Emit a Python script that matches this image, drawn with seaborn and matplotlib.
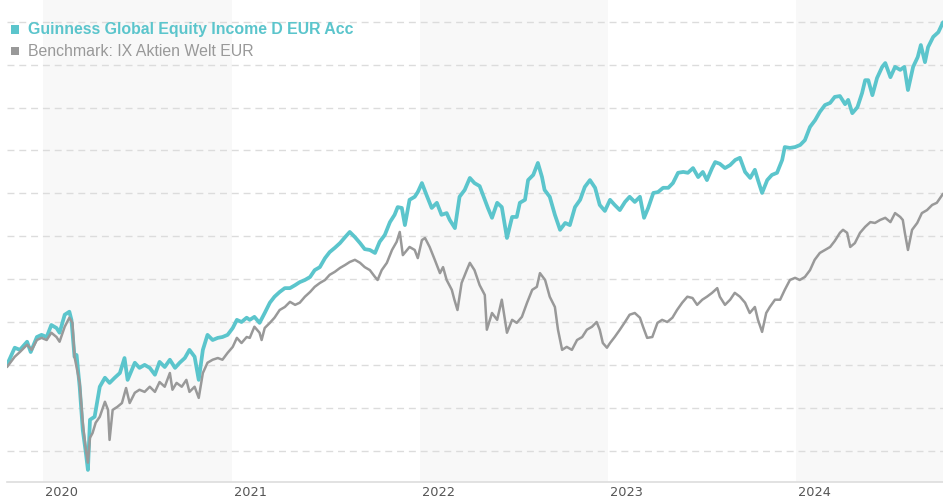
import matplotlib
matplotlib.use("Agg")
import matplotlib.pyplot as plt
from matplotlib.patches import Rectangle
from matplotlib.transforms import ScaledTranslation
import seaborn as sns
import pandas as pd

# ---------------- data (cumulative performance, %) ----------------
fund_name = "Guinness Global Equity Income D EUR Acc"
bench_name = "Benchmark: IX Aktien Welt EUR"
year_labels = ["2020", "2021", "2022", "2023", "2024"]

fund_dates = [
    "2019-10-23", "2019-11-07", "2019-11-17", "2019-12-01", "2019-12-08", "2019-12-20", "2019-12-29",
    "2020-01-08", "2020-01-17", "2020-01-27", "2020-02-02", "2020-02-12", "2020-02-21", "2020-02-25",
    "2020-03-02", "2020-03-06", "2020-03-12", "2020-03-18", "2020-03-24", "2020-03-28", "2020-04-01",
    "2020-04-10", "2020-04-20", "2020-04-30", "2020-05-09", "2020-05-19", "2020-05-29", "2020-06-07",
    "2020-06-13", "2020-06-27", "2020-07-06", "2020-07-16", "2020-07-26", "2020-08-05", "2020-08-14",
    "2020-08-24", "2020-09-03", "2020-09-13", "2020-09-22", "2020-10-02", "2020-10-11", "2020-10-21",
    "2020-10-29", "2020-11-06", "2020-11-15", "2020-11-25", "2020-12-05", "2020-12-14", "2020-12-24",
    "2021-01-03", "2021-01-11", "2021-01-20", "2021-01-30", "2021-02-05", "2021-02-14", "2021-02-24",
    "2021-03-06", "2021-03-16", "2021-03-25", "2021-04-04", "2021-04-14", "2021-04-24", "2021-05-04",
    "2021-05-13", "2021-05-23", "2021-06-02", "2021-06-11", "2021-06-21", "2021-07-01", "2021-07-10",
    "2021-07-20", "2021-07-30", "2021-08-09", "2021-08-18", "2021-08-28", "2021-09-07", "2021-09-16",
    "2021-09-26", "2021-10-06", "2021-10-15", "2021-10-25", "2021-11-04", "2021-11-13", "2021-11-19",
    "2021-11-27", "2021-12-03", "2021-12-12", "2021-12-22", "2021-12-28", "2022-01-05", "2022-01-14",
    "2022-01-24", "2022-02-03", "2022-02-12", "2022-02-22", "2022-02-28", "2022-03-10", "2022-03-19",
    "2022-03-29", "2022-04-08", "2022-04-17", "2022-04-27", "2022-05-07", "2022-05-13", "2022-05-21",
    "2022-05-31", "2022-06-09", "2022-06-19", "2022-06-29", "2022-07-08", "2022-07-14", "2022-07-24",
    "2022-07-30", "2022-08-09", "2022-08-18", "2022-08-26", "2022-08-31", "2022-09-10", "2022-09-20",
    "2022-09-30", "2022-10-10", "2022-10-19", "2022-10-29", "2022-11-08", "2022-11-17", "2022-11-27",
    "2022-12-07", "2022-12-16", "2022-12-26", "2023-01-05", "2023-01-14", "2023-01-24", "2023-02-03",
    "2023-02-12", "2023-02-22", "2023-03-04", "2023-03-12", "2023-03-20", "2023-03-30", "2023-04-08",
    "2023-04-18", "2023-04-28", "2023-05-07", "2023-05-17", "2023-05-27", "2023-06-05", "2023-06-15",
    "2023-06-25", "2023-07-04", "2023-07-12", "2023-07-22", "2023-07-28", "2023-08-06", "2023-08-16",
    "2023-08-26", "2023-09-05", "2023-09-14", "2023-09-24", "2023-10-04", "2023-10-13", "2023-10-19",
    "2023-10-27", "2023-11-06", "2023-11-15", "2023-11-25", "2023-12-05", "2023-12-10", "2023-12-20",
    "2023-12-30", "2024-01-09", "2024-01-18", "2024-01-28", "2024-02-07", "2024-02-16", "2024-02-26",
    "2024-03-07", "2024-03-16", "2024-03-26", "2024-04-05", "2024-04-11", "2024-04-19", "2024-04-29",
    "2024-05-08", "2024-05-14", "2024-05-20", "2024-05-28", "2024-06-06", "2024-06-16", "2024-06-22",
    "2024-07-02", "2024-07-11", "2024-07-21", "2024-07-29", "2024-08-05", "2024-08-15", "2024-08-24",
    "2024-08-30", "2024-09-07", "2024-09-13", "2024-09-23", "2024-10-03", "2024-10-12",
]
fund_values = [
    0.0, 4.0, 3.5, 5.4, 3.0, 6.5, 7.0,
    6.5, 9.3, 8.6, 7.5, 11.7, 12.4, 10.5,
    1.9, 2.3, -5.1, -15.2, -20.5, -24.5, -12.8,
    -12.1, -5.1, -3.0, -4.2, -3.0, -1.9, 1.6,
    -3.5, 0.5, -0.7, 0.0, -0.7, -2.3, 0.7,
    -0.5, 1.2, -0.7, 0.5, 1.6, 3.5, 1.9,
    -3.5, 3.5, 7.0, 5.8, 6.3, 6.5, 7.0,
    8.6, 10.5, 10.0, 11.0, 10.5, 11.2, 9.8,
    12.1, 14.5, 15.9, 17.0, 17.9, 17.9, 18.6,
    19.3, 19.8, 20.5, 22.1, 22.8, 24.9, 26.3,
    27.3, 28.4, 29.8, 31.0, 29.8, 28.4, 27.0,
    26.8, 26.1, 28.7, 30.3, 33.3, 35.0, 36.8,
    36.6, 32.6, 38.5, 39.2, 40.3, 42.4, 39.6,
    36.6, 37.8, 35.0, 35.4, 33.8, 31.9, 39.2,
    40.8, 43.6, 42.4, 41.7, 38.5, 36.6, 34.3,
    37.8, 36.8, 29.6, 34.5, 34.5, 37.8, 38.5,
    43.1, 44.3, 47.1, 43.8, 40.8, 39.2, 35.0,
    31.5, 33.1, 32.6, 36.8, 38.5, 41.5, 43.1,
    41.3, 37.3, 35.9, 38.5, 37.3, 36.1, 38.0,
    39.2, 38.0, 39.2, 34.3, 36.6, 40.1, 40.3,
    41.3, 41.3, 42.4, 44.8, 45.0, 44.8, 45.9,
    43.8, 45.0, 43.1, 45.9, 47.3, 46.9, 45.9,
    46.6, 47.8, 48.3, 45.0, 43.6, 45.5, 43.1,
    40.1, 43.1, 44.3, 44.8, 47.8, 50.8, 50.6,
    50.8, 51.3, 52.4, 55.5, 57.1, 59.0, 60.6,
    61.1, 62.5, 62.7, 60.8, 61.8, 58.7, 60.1,
    63.4, 66.4, 66.4, 62.9, 66.9, 69.5, 70.4,
    67.1, 69.5, 68.8, 69.5, 64.1, 69.5, 71.8,
    74.6, 70.6, 74.1, 76.5, 77.6, 79.9,
]

bench_dates = [
    "2019-10-23", "2019-11-07", "2019-11-17", "2019-12-01", "2019-12-10", "2019-12-20", "2019-12-29",
    "2020-01-08", "2020-01-17", "2020-01-27", "2020-02-02", "2020-02-12", "2020-02-21", "2020-02-27",
    "2020-03-02", "2020-03-12", "2020-03-18", "2020-03-24", "2020-03-28", "2020-04-01", "2020-04-06",
    "2020-04-12", "2020-04-20", "2020-04-30", "2020-05-06", "2020-05-09", "2020-05-15", "2020-05-24",
    "2020-06-02", "2020-06-10", "2020-06-17", "2020-06-27", "2020-07-06", "2020-07-16", "2020-07-26",
    "2020-08-05", "2020-08-14", "2020-08-24", "2020-09-03", "2020-09-08", "2020-09-16", "2020-09-26",
    "2020-10-05", "2020-10-11", "2020-10-21", "2020-10-29", "2020-11-06", "2020-11-15", "2020-11-25",
    "2020-12-05", "2020-12-14", "2020-12-24", "2021-01-03", "2021-01-11", "2021-01-20", "2021-01-30",
    "2021-02-05", "2021-02-14", "2021-02-24", "2021-02-28", "2021-03-06", "2021-03-16", "2021-03-25",
    "2021-04-04", "2021-04-14", "2021-04-24", "2021-05-04", "2021-05-13", "2021-05-23", "2021-06-02",
    "2021-06-11", "2021-06-21", "2021-07-01", "2021-07-10", "2021-07-20", "2021-07-30", "2021-08-09",
    "2021-08-18", "2021-08-28", "2021-09-07", "2021-09-16", "2021-09-26", "2021-10-06", "2021-10-11",
    "2021-10-19", "2021-10-29", "2021-11-08", "2021-11-17", "2021-11-23", "2021-11-29", "2021-12-12",
    "2021-12-22", "2021-12-28", "2022-01-05", "2022-01-11", "2022-01-20", "2022-01-30", "2022-02-09",
    "2022-02-15", "2022-02-22", "2022-03-04", "2022-03-09", "2022-03-15", "2022-03-23", "2022-04-02",
    "2022-04-08", "2022-04-17", "2022-04-27", "2022-05-07", "2022-05-11", "2022-05-21", "2022-05-31",
    "2022-06-09", "2022-06-19", "2022-06-29", "2022-07-08", "2022-07-18", "2022-07-28", "2022-08-07",
    "2022-08-16", "2022-08-22", "2022-09-01", "2022-09-10", "2022-09-20", "2022-09-26", "2022-10-04",
    "2022-10-13", "2022-10-23", "2022-11-02", "2022-11-12", "2022-11-21", "2022-12-01", "2022-12-10",
    "2022-12-16", "2022-12-22", "2022-12-30", "2023-01-05", "2023-01-14", "2023-01-24", "2023-02-03",
    "2023-02-12", "2023-02-22", "2023-03-04", "2023-03-10", "2023-03-18", "2023-03-28", "2023-04-07",
    "2023-04-16", "2023-04-26", "2023-05-06", "2023-05-15", "2023-05-25", "2023-06-04", "2023-06-14",
    "2023-06-23", "2023-07-03", "2023-07-12", "2023-07-22", "2023-08-01", "2023-08-06", "2023-08-16",
    "2023-08-26", "2023-09-04", "2023-09-14", "2023-09-24", "2023-10-03", "2023-10-13", "2023-10-19",
    "2023-10-27", "2023-11-04", "2023-11-11", "2023-11-21", "2023-12-01", "2023-12-10", "2023-12-20",
    "2023-12-30", "2024-01-08", "2024-01-18", "2024-01-28", "2024-02-06", "2024-02-16", "2024-02-26",
    "2024-03-07", "2024-03-16", "2024-03-26", "2024-04-01", "2024-04-09", "2024-04-15", "2024-04-24",
    "2024-05-04", "2024-05-14", "2024-05-24", "2024-06-02", "2024-06-12", "2024-06-22", "2024-07-02",
    "2024-07-11", "2024-07-21", "2024-07-26", "2024-07-30", "2024-08-05", "2024-08-13", "2024-08-23",
    "2024-09-01", "2024-09-11", "2024-09-21", "2024-09-30", "2024-10-08", "2024-10-12",
]
bench_values = [
    -0.5, 1.9, 3.0, 4.7, 3.5, 5.8, 6.3,
    5.8, 7.5, 6.5, 5.4, 8.9, 11.0, 9.8,
    1.9, -4.2, -13.5, -19.8, -22.8, -17.0, -15.9,
    -13.5, -12.1, -8.6, -10.5, -17.5, -10.5, -9.8,
    -8.9, -5.4, -8.9, -6.5, -5.8, -6.3, -5.1,
    -6.3, -4.0, -5.1, -1.9, -5.8, -4.2, -5.1,
    -3.5, -6.3, -5.1, -7.7, -1.9, 0.5, 1.2,
    1.6, 1.2, 2.8, 4.2, 6.3, 5.1, 6.5,
    6.3, 8.9, 7.5, 5.8, 8.6, 9.8, 11.0,
    12.8, 13.5, 14.7, 14.0, 14.5, 15.9, 17.0,
    18.2, 19.1, 19.8, 21.0, 21.7, 22.6, 23.3,
    24.0, 24.5, 23.8, 22.8, 22.1, 20.5, 19.8,
    22.1, 23.8, 26.8, 28.7, 31.0, 25.6, 27.5,
    26.8, 24.9, 29.1, 29.6, 27.5, 24.5, 21.4,
    22.8, 19.8, 17.5, 15.2, 12.8, 19.1, 22.1,
    23.8, 22.1, 18.6, 16.3, 8.2, 12.1, 10.5,
    15.2, 7.5, 10.5, 9.8, 11.2, 14.5, 17.5,
    18.2, 21.4, 19.8, 15.9, 13.5, 8.2, 3.5,
    4.2, 3.5, 5.8, 6.5, 8.2, 8.9, 10.0,
    8.2, 5.1, 4.0, 5.1, 6.5, 8.2, 10.0,
    11.7, 12.1, 11.0, 8.9, 6.3, 6.5, 9.8,
    10.5, 10.0, 11.0, 12.8, 14.5, 15.9, 15.6,
    14.0, 15.2, 15.9, 16.8, 17.9, 15.9, 14.0,
    15.2, 16.8, 15.9, 14.5, 12.1, 13.5, 10.5,
    7.7, 12.1, 13.5, 15.2, 15.2, 17.5, 19.8,
    20.3, 19.8, 20.5, 22.1, 24.5, 26.1, 26.8,
    27.5, 28.9, 30.8, 31.5, 30.8, 27.5, 28.4,
    30.8, 32.2, 33.3, 33.1, 33.8, 34.3, 33.3,
    35.4, 34.5, 33.8, 30.8, 26.8, 31.5, 33.1,
    35.4, 36.1, 37.3, 37.8, 39.2, 39.9,
]

# ---------------- styling ----------------
TEAL = "#5bc5cc"
GREY = "#999999"
BAND = "#f8f8f8"
GRID = "#dcdcdc"

fund_df = pd.DataFrame({"date": pd.to_datetime(fund_dates), "value": fund_values, "series": fund_name})
bench_df = pd.DataFrame({"date": pd.to_datetime(bench_dates), "value": bench_values, "series": bench_name})

sns.set_style("white")
plt.rcParams["font.family"] = ["DejaVu Sans"]

W, H = 943, 500
fig = plt.figure(figsize=(W / 100, H / 100), dpi=100)
ax = fig.add_axes([7 / W, 18.5 / H, (W - 7) / W, (H - 18.5) / H])

x_start = pd.Timestamp(fund_dates[0])
x_end = pd.Timestamp(fund_dates[-1])

# alternating year bands
for i, yl in enumerate(year_labels):
    if i % 2 == 0:
        s = pd.Timestamp(f"{yl}-01-01")
        e = min(pd.Timestamp(f"{int(yl) + 1}-01-01"), x_end)
        ax.axvspan(s, e, color=BAND, lw=0, zorder=0)

# dashed gridlines
for v in range(-20, 81, 10):
    ax.axhline(v, color=GRID, lw=1.0, ls=(0, (5, 3.5)), zorder=1)

sns.lineplot(data=fund_df, x="date", y="value", color=TEAL, lw=2.7,
             estimator=None, ax=ax, legend=False, zorder=3)
sns.lineplot(data=bench_df, x="date", y="value", color=GREY, lw=1.8,
             estimator=None, ax=ax, legend=False, zorder=4)

ax.set_xlim(x_start, x_end)
ax.set_ylim(-27.2, 85.1)
ax.set_xlabel("")
ax.set_ylabel("")
ax.set_yticks([])

for sp in ["top", "left", "right"]:
    ax.spines[sp].set_visible(False)
ax.spines["bottom"].set_color("#dddddd")
ax.spines["bottom"].set_linewidth(1.2)

ax.set_xticks([pd.Timestamp(f"{y}-01-01") for y in year_labels])
ax.set_xticklabels(year_labels, ha="left", fontsize=9.3, color="#555555")
ax.tick_params(axis="x", length=0, pad=3)
offset = ScaledTranslation(2 / 100, 0, fig.dpi_scale_trans)
for lbl in ax.get_xticklabels():
    lbl.set_transform(lbl.get_transform() + offset)

# legend (top-left)
fig.text(27.7 / W, 1 - 34 / H, fund_name, fontsize=11.4, fontweight="bold",
         color=TEAL, family=["Liberation Sans", "DejaVu Sans"], va="baseline")
fig.text(27.7 / W, 1 - 56 / H, bench_name, fontsize=11.4,
         color=GREY, family=["Liberation Sans", "DejaVu Sans"], va="baseline")
fig.patches.append(Rectangle((10.5 / W, 1 - 33.5 / H), 8 / W, 8 / H,
                             transform=fig.transFigure, color=TEAL, lw=0))
fig.patches.append(Rectangle((10.5 / W, 1 - 55 / H), 8 / W, 8 / H,
                             transform=fig.transFigure, color=GREY, lw=0))

fig.savefig("out.png", dpi=100)
